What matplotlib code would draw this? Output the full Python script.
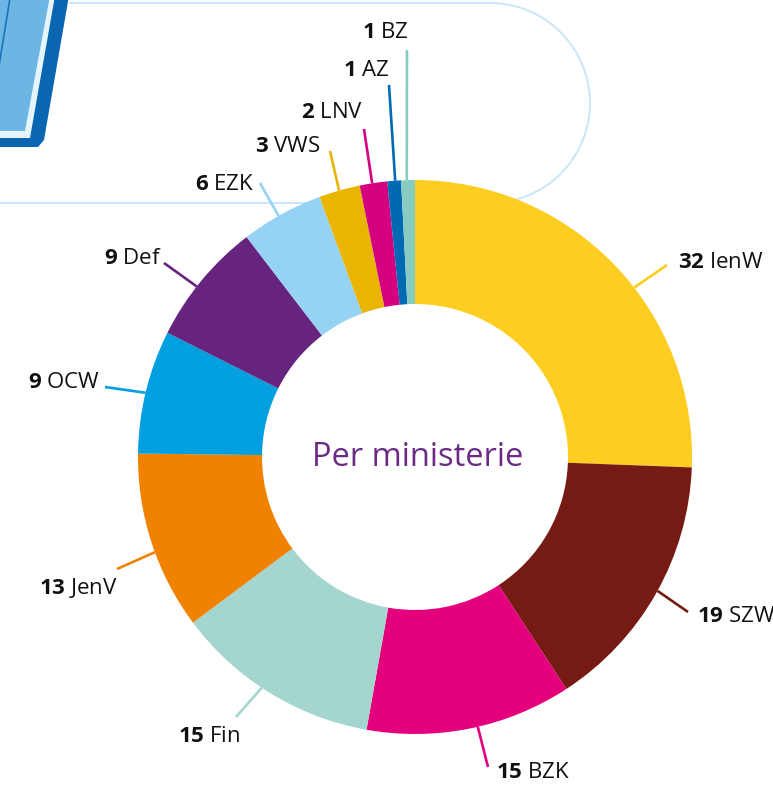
import numpy as np
import matplotlib
matplotlib.use("Agg")
import matplotlib.pyplot as plt
from matplotlib.patches import Polygon, Arc

plt.rcParams['font.family'] = ['Open Sans', 'DejaVu Sans']
plt.rcParams['mathtext.fontset'] = 'custom'
plt.rcParams['mathtext.rm'] = 'Open Sans'
plt.rcParams['mathtext.bf'] = 'Open Sans:bold'

# data (clockwise from the top)
ministeries = ['IenW', 'SZW', 'BZK', 'Fin', 'JenV', 'OCW', 'Def', 'EZK', 'VWS', 'LNV', 'AZ', 'BZ']
aantallen = [32, 19, 15, 15, 13, 9, 9, 6, 3, 2, 1, 1]
kleuren = ['#fecd21', '#761a14', '#e4007c', '#a4d5cf', '#f08200', '#009fe0',
           '#66247f', '#96d2f3', '#e9b500', '#d5007f', '#0069b4', '#88cbc1']

# layout of the labels (pixels): angle on the ring, end of leader, text anchor, alignment
leader_angle = [37.7, -28.9, -76.9, 236.4, 200.1, 166.6, 142.0, 119.5, 105.9, 98.9, 94.1, 91.7]
leader_end = [(667, 265), (688, 612), (488, 767), (236, 717), (117, 569), (105, 387),
              (164, 263), (260, 183), (330, 151), (364, 129), (389, 85), (407, 50)]
label_pos = [(678, 262), (697, 617), (496, 772), (240, 736), (118, 588), (100, 383),
             (162, 258), (254, 185), (320, 147), (363, 113), (389, 70), (409, 33)]
label_ha = ['left', 'left', 'left', 'right', 'right', 'right',
            'right', 'right', 'right', 'right', 'right', 'right']

W, H = 773, 785
cx, cy = 415, 457
r_out, r_in = 277, 153

fig = plt.figure(figsize=(W / 100, H / 100), dpi=100)
ax = fig.add_axes([0, 0, 1, 1])

# decoration top left
ax.add_patch(Polygon([(-50, -10), (70, -10), (44, 140), (38, 147), (-50, 147)],
                     closed=True, facecolor='#0a66b1', edgecolor='none', zorder=1))
ax.add_patch(Polygon([(-50, -10), (56, -10), (30, 138), (-50, 138)],
                     closed=True, facecolor='#e6f4fc', edgecolor='none', zorder=1))
ax.add_patch(Polygon([(-50, -10), (51, -10), (25, 131), (-50, 131)],
                     closed=True, facecolor='#6db6e3', edgecolor='none', zorder=1))
ax.plot([10, -2], [-2, 72], color='#1a75bd', lw=1.2, zorder=1)

# rounded outline behind the chart
line_c = '#c9e6f8'
ax.plot([70, 490], [3, 3], color=line_c, lw=1.4, zorder=0)
ax.plot([-5, 490], [203, 203], color=line_c, lw=1.4, zorder=0)
ax.add_patch(Arc((490, 103), 200, 200, theta1=-90, theta2=90, color=line_c, lw=1.4, zorder=0))

# donut (y axis inverted -> counterclock in data is clockwise on screen)
ax.pie(aantallen, colors=kleuren, startangle=-90, counterclock=True,
       center=(cx, cy), radius=r_out,
       wedgeprops=dict(width=r_out - r_in, edgecolor='none', zorder=3))

ax.text(cx + 3, cy, 'Per ministerie', ha='center', va='center',
        fontsize=23.5, color='#6a2a86', zorder=4)

for naam, n, kl, a, end, pos, ha in zip(ministeries, aantallen, kleuren,
                                         leader_angle, leader_end, label_pos, label_ha):
    sx = cx + r_out * np.cos(np.radians(a))
    sy = cy - r_out * np.sin(np.radians(a))
    ax.plot([sx, end[0]], [sy, end[1]], color=kl, lw=1.9, solid_capstyle='butt', zorder=2)
    ax.text(pos[0], pos[1], r'$\mathbf{%d}$ %s' % (n, naam), ha=ha, va='center',
            fontsize=16, color='#111111', zorder=4)

ax.set_xlim(0, W)
ax.set_ylim(H, 0)
ax.set_aspect('equal')
ax.axis('off')

fig.savefig('out.png', dpi=100)
